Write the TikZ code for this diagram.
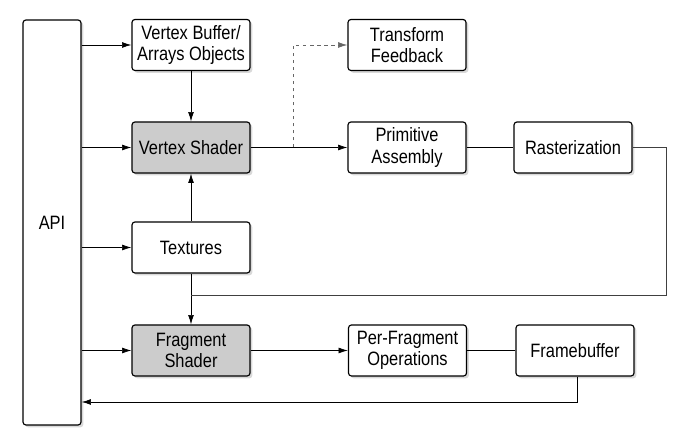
\documentclass[tikz,border=0pt]{standalone}
\usepackage{fontspec}
\setmainfont{Liberation Sans}[FakeStretch=0.85]
\usetikzlibrary{shadows,calc}
\usetikzlibrary{arrows.meta}

\begin{document}
\begin{tikzpicture}[
		>={Latex[length=8pt,width=5pt]},
		semithick,
		font=\fontsize{16.5}{18.5}\selectfont,
		stage/.style={rectangle,rounded corners=2.5pt,draw=black,line width=1pt,fill=white,
			minimum width=3.54cm,minimum height=1.53cm,align=center,inner sep=1pt,
			drop shadow={shadow xshift=2pt,shadow yshift=-2pt,opacity=0.3}},
		shader/.style={stage,fill=black!20},
		link/.style={->,line width=0.6pt}
		]
		\useasboundingbox (0,0) rectangle (20.64,13.14);
		\node[stage,minimum width=1.74cm,minimum height=12.15cm](api) at (1.56,6.465){API};
		\node[stage](vbo) at (5.73,11.79){Vertex Buffer/\\Arrays Objects};
		\node[shader](vs) at (5.73,8.715){Vertex Shader};
		\node[stage](tex) at (5.73,5.715){Textures};
		\node[shader](fs) at (5.73,2.625){Fragment\\Shader};
		\node[stage](tf) at (12.21,11.79){Transform\\Feedback};
		\node[stage](pa) at (12.21,8.715){Primitive\\Assembly};
		\node[stage](rast) at (17.19,8.715){Rasterization};
		\node[stage](pfo) at (12.225,2.625){Per-Fragment\\Operations};
		\node[stage](fb) at (17.25,2.625){Framebuffer};
		\coordinate (split) at (8.79,8.715);
		\coordinate (join) at (5.73,4.29);
		\coordinate (back) at (17.31,1.08);
		
		\draw[link] (vbo -| api.east) -- (vbo);
		\draw[link] (vs -| api.east) -- (vs);
		\draw[link] (tex -| api.east) -- (tex);
		\draw[link] (fs -| api.east) -- (fs);
		\draw[link] (vbo) -- (vs);
		\draw[link] (tex) -- (vs);
		\draw[link] (tex) -- (fs);
		\draw[link] (vs) -- (pa);
		\draw[link,dashed,draw=black!60] (split) |- (tf);
		\draw[line width=0.6pt] (pa) -- (rast);
		\draw[line width=0.6pt,draw=black!75] (rast.east) -- ++(1.0,0) |- (join);
		\draw[link] (fs) -- (pfo);
		\draw[line width=0.6pt] (pfo) -- (fb);
		\draw[link] (fb.south -| back) -- (back) -- (back -| api.east);
		
\end{tikzpicture}
\end{document}
